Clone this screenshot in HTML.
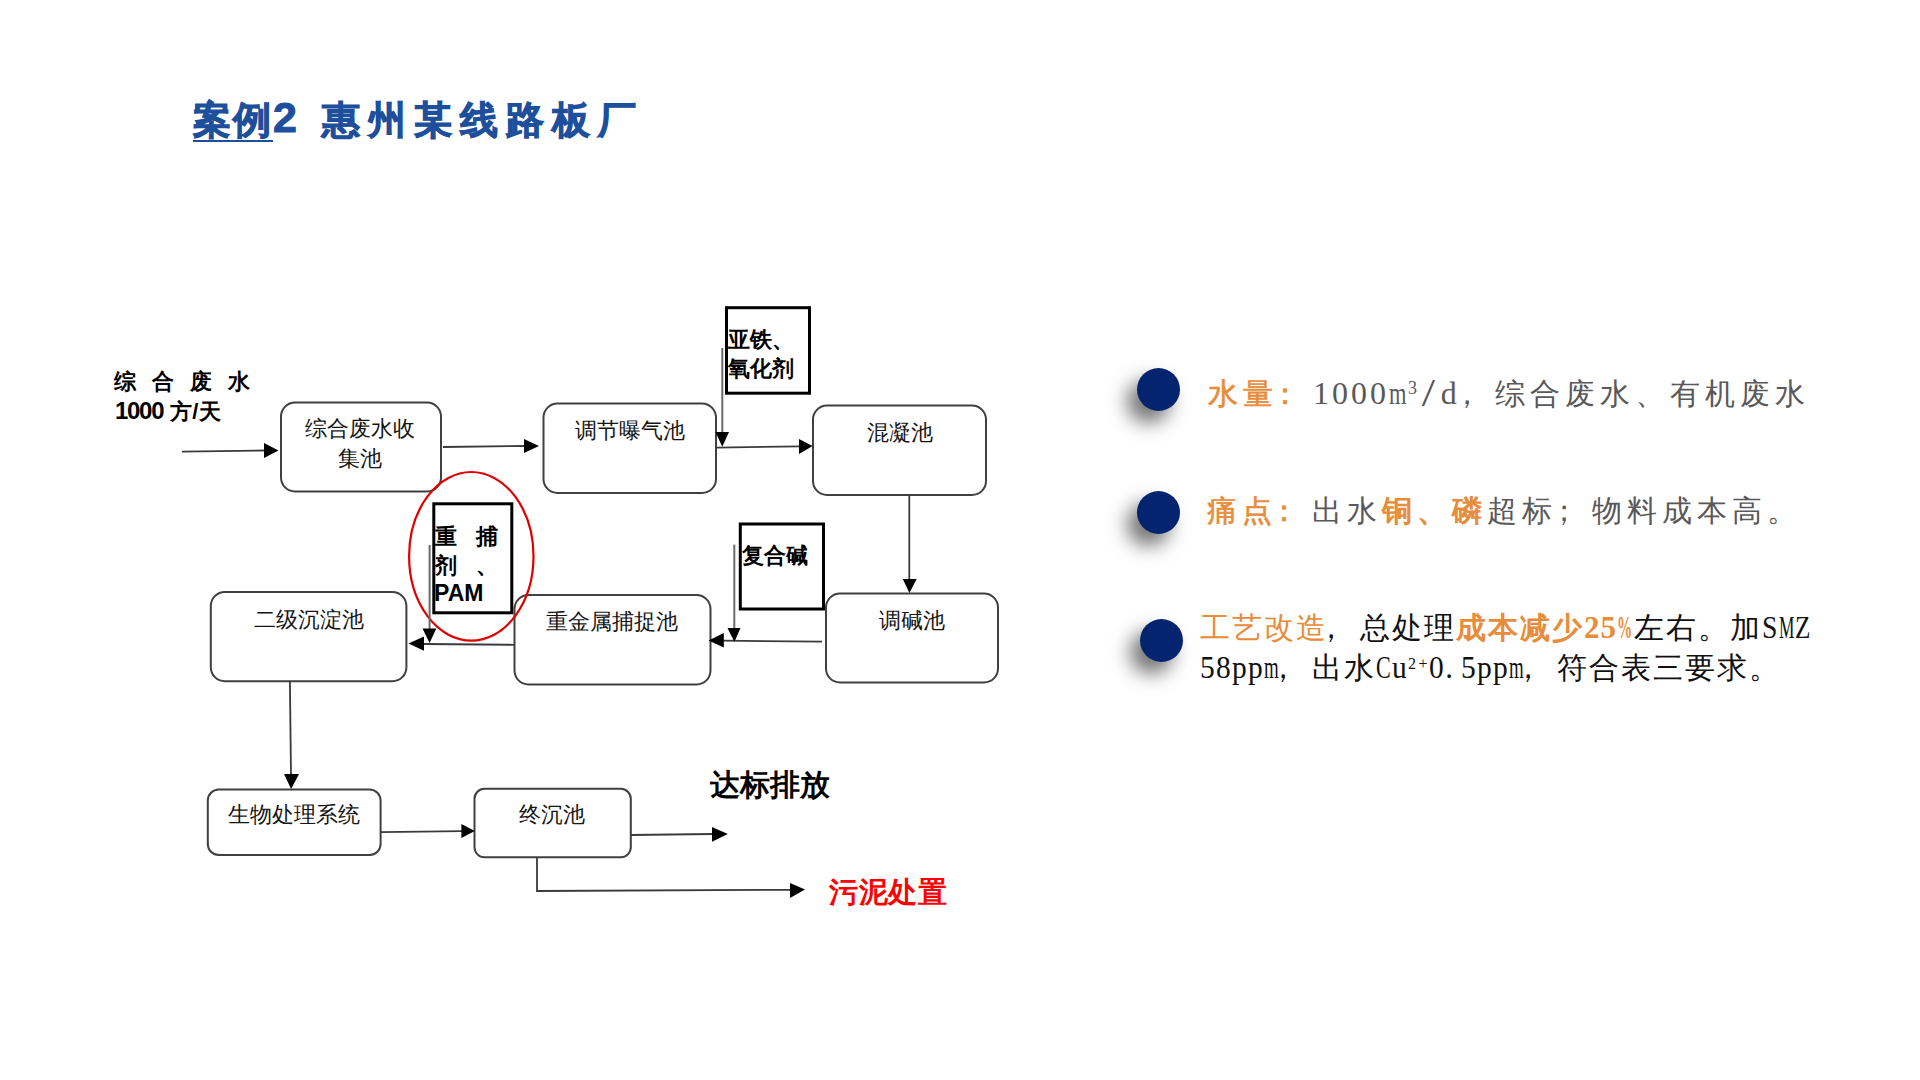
<!DOCTYPE html>
<html><head><meta charset="utf-8">
<style>
html,body{margin:0;padding:0;background:#fff;}
body{width:1920px;height:1080px;position:relative;overflow:hidden;font-family:"Liberation Sans",sans-serif;text-spacing-trim:space-all;}
.t{position:absolute;white-space:nowrap;line-height:1;}
.bx{font-size:22px;color:#151515;}
.bd{font-size:22px;font-weight:bold;color:#000;}
svg{position:absolute;left:0;top:0;}
.dot{position:absolute;width:43px;height:43px;border-radius:50%;background:#052470;box-shadow:-10px 12px 19px rgba(0,0,0,0.55);}
.rt{position:absolute;white-space:nowrap;line-height:1;font-family:"Liberation Serif",serif;}
.or{color:#e78c3a;}
.g{color:#595959;}
.ls{font-family:"Liberation Serif",serif;letter-spacing:0;}
.lt{display:inline-block;font-style:normal;letter-spacing:0;white-space:nowrap;}
.sq{display:inline-block;font-weight:inherit;transform-origin:0 50%;}
.pl{position:relative;left:-0.28em;}
</style></head>
<body>
<!-- Title -->
<div class="t" id="title" style="left:193px;top:97px;font-size:38px;font-weight:bold;color:#1d4f9c;-webkit-text-stroke:1px #1d4f9c;"><span style="letter-spacing:2px">案例</span><span style="font-size:43px;position:relative;top:-1px;letter-spacing:-1px">2</span><span style="margin-left:26px;letter-spacing:8px;">惠州某线路板厂</span></div>
<div style="position:absolute;left:193px;top:140px;width:80px;height:2px;background:#1d4f9c;"></div>

<svg width="1920" height="1080" viewBox="0 0 1920 1080">
<g fill="none" stroke="#404040" stroke-width="2">
<rect x="281" y="402.5" width="160" height="89" rx="14"/>
<rect x="543.5" y="403.5" width="172.5" height="89.5" rx="14"/>
<rect x="813" y="405.5" width="173" height="89.5" rx="14"/>
<rect x="826" y="593.5" width="172" height="89" rx="14"/>
<rect x="514.5" y="595" width="196" height="89.5" rx="14"/>
<rect x="210.8" y="592" width="195.6" height="89.2" rx="14"/>
<rect x="207.8" y="789.5" width="172.8" height="65.5" rx="11"/>
<rect x="474.5" y="788.8" width="156.3" height="68.5" rx="10"/>
</g>
<g fill="none" stroke="#000" stroke-width="3">
<rect x="726.5" y="307.7" width="83" height="85.5"/>
<rect x="740.3" y="524" width="83.2" height="85"/>
<rect x="433.8" y="503.8" width="78" height="109"/>
</g>
<ellipse cx="471.3" cy="556.3" rx="62.2" ry="84.3" fill="none" stroke="#e00000" stroke-width="2.2"/>
<g fill="none" stroke="#3a3a3a" stroke-width="1.8">
<polyline points="182,451.7 265,450.5"/>
<polyline points="443,447 525,446"/>

<polyline points="716,447.6 800,446.4"/>
<polyline points="909.3,495 909.3,580"/>
<polyline points="822,641.7 723,640.6"/>

<polyline points="514,644.8 424,644"/>

<polyline points="289.9,681 291,775"/>
<polyline points="380.6,832.2 462,831.2"/>
<polyline points="630.8,835 713,834"/>
<polyline points="537,857.3 537,891 791,889.8"/>
</g>
<g fill="none" stroke="#6a6a6a" stroke-width="2">
<polyline points="722.3,348 722.3,433"/>
<polyline points="734.3,544.6 734.3,629"/>
<polyline points="429.6,545 429.6,629"/>
</g>
<g fill="#000" stroke="none">
<polygon points="278.5,450.4 264,443 264,458"/>
<polygon points="539,446 524,439 524,453"/>
<polygon points="722.3,446.8 715.5,432 729,432"/>
<polygon points="812.6,446 799,439 799,454"/>
<polygon points="909.4,593 902.8,579 916.7,579"/>
<polygon points="708.6,640.6 723.8,633 723.8,647.6"/>
<polygon points="734.4,642 727.5,628 740.5,628"/>
<polygon points="408.5,643.5 424,636.4 424,650.8"/>
<polygon points="429.6,643 422.5,628.5 436.3,628.5"/>
<polygon points="291.1,789 284,774 299,774"/>
<polygon points="474.8,831 461.4,824 461.4,838"/>
<polygon points="727.8,834 712,827 712,841.7"/>
<polygon points="805,889.6 790,883 790,898"/>
</g>
</svg>

<!-- left labels -->
<div class="t bd" id="l1" style="left:114px;top:371px;">综<span style="margin-left:16px">合</span><span style="margin-left:16px">废</span><span style="margin-left:16px">水</span></div>
<div class="t bd" id="l2" style="left:115px;top:399px;letter-spacing:0.5px;"><span style="font-size:24px;letter-spacing:-1.3px;">1000</span> 方/天</div>

<div class="t bx" id="b1a" style="left:305px;top:418px;">综合废水收</div>
<div class="t bx" id="b1b" style="left:338px;top:448px;">集池</div>
<div class="t bx" id="b2" style="left:575px;top:420px;">调节曝气池</div>
<div class="t bx" id="b3" style="left:867px;top:422px;">混凝池</div>
<div class="t bx" id="b4" style="left:879px;top:610px;">调碱池</div>
<div class="t bx" id="b5" style="left:546px;top:611px;">重金属捕捉池</div>
<div class="t bx" id="b6" style="left:254px;top:609px;">二级沉淀池</div>
<div class="t bx" id="b7" style="left:228px;top:804px;">生物处理系统</div>
<div class="t bx" id="b8" style="left:519px;top:804px;">终沉池</div>

<div class="t bd" id="c1a" style="left:728px;top:329px;">亚铁、</div>
<div class="t bd" id="c1b" style="left:728px;top:358px;">氧化剂</div>
<div class="t bd" id="c2" style="left:742px;top:545px;">复合碱</div>
<div class="t bd" id="c3a" style="left:435px;top:526px;">重<span style="margin-left:19px">捕</span></div>
<div class="t bd" id="c3b" style="left:435px;top:555px;">剂<span style="margin-left:19px">、</span></div>
<div class="t bd" id="c3c" style="left:434px;top:582px;font-size:23px;">PAM</div>

<div class="t" id="d1" style="left:710px;top:770px;font-size:30px;font-weight:bold;color:#000;">达标排放</div>
<div class="t" id="d2" style="left:829px;top:878px;font-size:29px;letter-spacing:0.6px;font-weight:bold;color:#ff0000;">污泥处置</div>

<!-- right bullets -->
<div class="dot" style="left:1137px;top:368px;"></div>
<div class="dot" style="left:1137px;top:491px;"></div>
<div class="dot" style="left:1140px;top:619px;"></div>

<div class="rt" id="r1" style="left:1208px;top:377px;font-size:30px;letter-spacing:5px;"><span class="or" style="-webkit-text-stroke:0.6px #e78c3a">水量<span class="pl">：</span></span><span class="g"><span class="ls" style="font-size:32px;"><i class="lt" style="width:19px">1</i><i class="lt" style="width:19px">0</i><i class="lt" style="width:19px">0</i><i class="lt" style="width:19px">0</i><i class="lt" style="width:19px"><b class="sq" style="transform:scaleX(0.702)">m</b></i></span><span class="ls" style="font-size:18px;position:relative;top:-10px"><i class="lt" style="width:13.8px">3</i></span><span class="ls" style="font-size:32px;"><i class="lt" style="width:19px"><b class="sq" style="transform:translateX(2px) scale(1.5,1.22);transform-origin:50% 60%">/</b></i><i class="lt" style="width:19.1px">d</i></span><span class="pl">，</span>综合废水、有机废水</span></div>
<div class="rt" id="r2" style="left:1207px;top:496px;font-size:30px;letter-spacing:5px;"><span class="or" style="-webkit-text-stroke:0.6px #e78c3a">痛点<span class="pl">：</span></span><span class="g">出水</span><span class="or" style="font-weight:bold">铜、磷</span><span class="g">超标<span class="pl">；</span>物料成本高。</span></div>
<div class="rt" id="r3" style="left:1200px;top:608px;font-size:30px;letter-spacing:2px;color:#111;line-height:40px;"><span class="or">工艺改造</span><span class="pl" style="left:-0.41em">，</span>总处理<span class="or" style="font-weight:bold">成本减少<span class="ls" style="font-size:31px;"><i class="lt" style="width:16.6px">2</i><i class="lt" style="width:16.6px">5</i><i class="lt" style="width:16.6px"><b class="sq" style="transform:scaleX(0.493)">%</b></i></span></span>左右。加<span class="ls" style="font-size:31px;"><i class="lt" style="width:16.8px"><b class="sq" style="transform:scaleX(0.896)">S</b></i><i class="lt" style="width:16.8px"><b class="sq" style="transform:scaleX(0.561)">M</b></i><i class="lt" style="width:16.8px"><b class="sq" style="transform:scaleX(0.816)">Z</b></i></span><br><span class="ls" style="font-size:31px;"><i class="lt" style="width:16px"><b class="sq" style="transform:scaleX(0.950)">5</b></i><i class="lt" style="width:16px"><b class="sq" style="transform:scaleX(0.950)">8</b></i><i class="lt" style="width:16px"><b class="sq" style="transform:scaleX(0.950)">p</b></i><i class="lt" style="width:16px"><b class="sq" style="transform:scaleX(0.950)">p</b></i><i class="lt" style="width:16px"><b class="sq" style="transform:scaleX(0.610)">m</b></i></span><span class="pl" style="left:-0.41em">，</span>出水<span class="ls" style="font-size:31px;"><i class="lt" style="width:16px"><b class="sq" style="transform:scaleX(0.712)">C</b></i><i class="lt" style="width:16px"><b class="sq" style="transform:scaleX(0.950)">u</b></i></span><span class="ls" style="font-size:16px;position:relative;top:-9px"><i class="lt" style="width:10.6px">2</i><i class="lt" style="width:10.6px">+</i></span><span class="ls" style="font-size:31px;"><i class="lt" style="width:16px"><b class="sq" style="transform:scaleX(0.950)">0</b></i><i class="lt" style="width:16px">.</i><i class="lt" style="width:16px"><b class="sq" style="transform:scaleX(0.950)">5</b></i><i class="lt" style="width:16px"><b class="sq" style="transform:scaleX(0.950)">p</b></i><i class="lt" style="width:16px"><b class="sq" style="transform:scaleX(0.950)">p</b></i><i class="lt" style="width:16px"><b class="sq" style="transform:scaleX(0.610)">m</b></i></span><span class="pl" style="left:-0.41em">，</span>符合表三要求。</div>
</body></html>
